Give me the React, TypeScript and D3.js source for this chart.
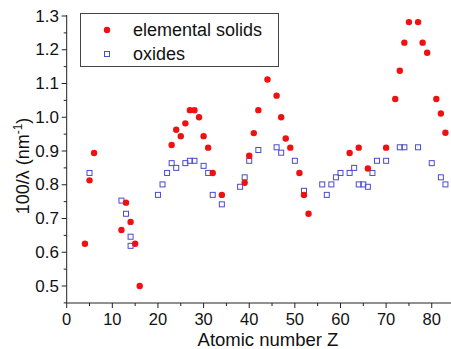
import React from 'react';
import * as d3 from 'd3';

// elemental solids: atomic number Z and 100/lambda (nm^-1)
const SOLID_Z = [4, 5, 6, 12, 13, 14, 15, 16, 23, 24, 25, 26, 27, 28, 29, 30, 31, 32, 34, 39, 40, 41, 42, 44, 46, 47, 48, 49, 51, 52, 53, 62, 64, 66, 70, 72, 73, 74, 75, 77, 78, 79, 81, 82, 83];
const SOLID_V = [0.625, 0.813, 0.894, 0.666, 0.747, 0.690, 0.625, 0.50, 0.918, 0.963, 0.944, 0.982, 1.021, 1.021, 1.0, 0.944, 0.910, 0.835, 0.770, 0.806, 0.886, 0.953, 1.021, 1.112, 1.064, 1.0, 0.937, 0.910, 0.835, 0.770, 0.714, 0.894, 0.910, 0.848, 0.910, 1.054, 1.138, 1.221, 1.282, 1.282, 1.221, 1.191, 1.054, 1.011, 0.954];

// oxides
const OXIDE_Z = [5, 12, 13, 14, 14, 20, 21, 22, 23, 24, 26, 27, 28, 30, 31, 32, 34, 38, 39, 40, 42, 46, 47, 50, 52, 56, 57, 58, 59, 60, 62, 63, 64, 65, 66, 67, 68, 70, 73, 74, 77, 80, 82, 83];
const OXIDE_V = [0.835, 0.753, 0.714, 0.646, 0.619, 0.770, 0.801, 0.835, 0.864, 0.850, 0.864, 0.871, 0.871, 0.856, 0.835, 0.770, 0.742, 0.794, 0.822, 0.871, 0.903, 0.911, 0.895, 0.871, 0.782, 0.801, 0.770, 0.801, 0.822, 0.835, 0.835, 0.850, 0.801, 0.801, 0.794, 0.835, 0.871, 0.871, 0.911, 0.911, 0.911, 0.864, 0.822, 0.801];

const X_TICKS = [0, 10, 20, 30, 40, 50, 60, 70, 80];
const Y_TICKS = [0.5, 0.6, 0.7, 0.8, 0.9, 1.0, 1.1, 1.2, 1.3];

const W = 451, H = 349;
const FONT = '"Liberation Sans", Arial, sans-serif';
const RED = '#f01010';
const BLUE = '#4a4ad0';

export default function App() {
  const x = d3.scaleLinear().domain([0, 84]).range([66.7, 450]);
  const y = d3.scaleLinear().domain([0.5, 1.3]).range([286, 16]);
  const yBottom = 303;
  const xMinor = d3.range(5, 84, 10);
  const yMinor = d3.range(0.45, 1.3, 0.1);

  return (
    <div style={{ position: 'fixed', left: 0, top: 0 }}>
      <svg width={W} height={H} style={{ display: 'block', background: '#fff' }} fontFamily={FONT}>
        {/* axes */}
        <line x1={x(0)} x2={x(0)} y1={y(1.3) - 1} y2={yBottom} stroke="#222" strokeWidth={1} />
        <line x1={x(0)} x2={W} y1={yBottom} y2={yBottom} stroke="#222" strokeWidth={1} />

        {X_TICKS.map(t => (
          <g key={'x' + t}>
            <line x1={x(t)} x2={x(t)} y1={yBottom} y2={yBottom + 5} stroke="#222" />
            <text x={x(t)} y={325} fontSize={16.5} textAnchor="middle" fill="#111">{t}</text>
          </g>
        ))}
        {xMinor.map(t => (
          <line key={'xm' + t} x1={x(t)} x2={x(t)} y1={yBottom} y2={yBottom + 3} stroke="#222" />
        ))}

        {Y_TICKS.map(t => (
          <g key={'y' + t}>
            <line x1={x(0) - 5} x2={x(0)} y1={y(t)} y2={y(t)} stroke="#222" />
            <text x={59} y={y(t) + 5.5} fontSize={17} textAnchor="end" fill="#111">{t.toFixed(1)}</text>
          </g>
        ))}
        {yMinor.map(t => (
          <line key={'ym' + t} x1={x(0) - 3} x2={x(0)} y1={y(t)} y2={y(t)} stroke="#222" />
        ))}

        <text x={268} y={346} fontSize={18.5} textAnchor="middle" fill="#111">Atomic number Z</text>
        <text transform={`translate(29,166) rotate(-90)`} fontSize={18} textAnchor="middle" fill="#111">
          100/λ (nm<tspan dy={-7} fontSize={12}>-1</tspan><tspan dy={7}>)</tspan>
        </text>

        {/* data */}
        {OXIDE_Z.map((z, i) => (
          <rect key={'o' + i} x={x(z) - 2.5} y={y(OXIDE_V[i]) - 2.5} width={5} height={5}
            fill="none" stroke={BLUE} strokeWidth={1} />
        ))}
        {SOLID_Z.map((z, i) => (
          <circle key={'s' + i} cx={x(z)} cy={y(SOLID_V[i])} r={3.2} fill={RED} />
        ))}

        {/* legend */}
        <rect x={80.5} y={13.5} width={198} height={53} fill="#fff" stroke="#444" strokeWidth={1} />
        <circle cx={107} cy={30} r={3.2} fill={RED} />
        <rect x={104.5} y={51.5} width={5} height={5} fill="none" stroke={BLUE} strokeWidth={1} />
        <text x={133} y={36} fontSize={18} fill="#111">elemental solids</text>
        <text x={133} y={59.5} fontSize={18} fill="#111">oxides</text>
      </svg>
    </div>
  );
}
